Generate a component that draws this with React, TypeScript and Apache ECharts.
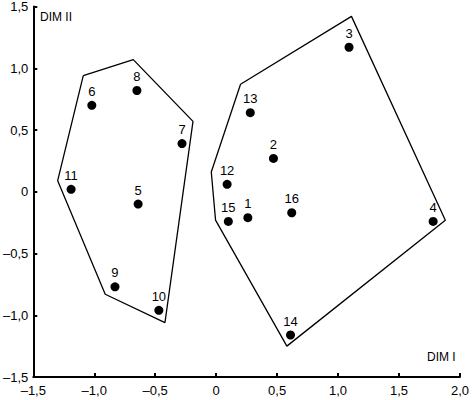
import React, { useEffect, useRef } from "react";
import * as echarts from "echarts";

const pointNames = ["1", "2", "3", "4", "5", "6", "7", "8", "9", "10", "11", "12", "13", "14", "15", "16"];
const dim1 = [0.26, 0.47, 1.09, 1.78, -0.64, -1.02, -0.28, -0.65, -0.83, -0.47, -1.19, 0.09, 0.28, 0.61, 0.10, 0.62];
const dim2 = [-0.21, 0.27, 1.17, -0.24, -0.10, 0.70, 0.39, 0.82, -0.77, -0.96, 0.02, 0.06, 0.64, -1.16, -0.24, -0.17];

const hullLeftX = [-1.09, -0.68, -0.19, -0.42, -0.91, -1.30];
const hullLeftY = [0.94, 1.07, 0.57, -1.06, -0.83, 0.09];
const hullRightX = [0.20, 1.11, 1.88, 0.58, -0.005, -0.04];
const hullRightY = [0.87, 1.42, -0.23, -1.25, -0.23, 0.16];

const axisMin = -1.5;
const xMax = 2.0;
const yMax = 1.5;
const tickStep = 0.5;

const fmt = (v: number) =>
  Math.abs(v) < 1e-9 ? "0" : v.toFixed(1).replace(".", ",").replace("-", "\u2013");

const closed = (xs: number[], ys: number[]) => {
  const pts = xs.map((x, i) => [x, ys[i]]);
  pts.push([xs[0], ys[0]]);
  return pts;
};

export default function App() {
  const ref = useRef<HTMLDivElement>(null);
  useEffect(() => {
    document.body.style.margin = "0";
    const chart = echarts.init(ref.current!, null, { renderer: "svg" });
    const font = "Liberation Sans, Arial, sans-serif";
    chart.setOption({
      animation: false,
      backgroundColor: "#ffffff",
      grid: { left: 33, right: 9, top: 6, bottom: 23, containLabel: false },
      xAxis: {
        type: "value",
        min: axisMin,
        max: xMax,
        interval: tickStep,
        splitLine: { show: false },
        axisLine: { show: true, onZero: false, lineStyle: { color: "#000", width: 2 } },
        axisTick: { show: true, inside: true, length: 4, lineStyle: { color: "#000", width: 2 } },
        axisLabel: { formatter: fmt, color: "#000", fontSize: 13, fontFamily: font, margin: 7, showMinLabel: true, showMaxLabel: true },
      },
      yAxis: {
        type: "value",
        min: axisMin,
        max: yMax,
        interval: tickStep,
        splitLine: { show: false },
        axisLine: { show: true, onZero: false, lineStyle: { color: "#000", width: 2 } },
        axisTick: { show: true, inside: true, length: 4, lineStyle: { color: "#000", width: 2 } },
        axisLabel: { formatter: fmt, color: "#000", fontSize: 13, fontFamily: font, margin: 5, showMinLabel: true, showMaxLabel: true },
      },
      series: [
        {
          type: "line",
          data: closed(hullLeftX, hullLeftY),
          symbol: "none",
          lineStyle: { color: "#000", width: 1.3 },
          silent: true,
        },
        {
          type: "line",
          data: closed(hullRightX, hullRightY),
          symbol: "none",
          lineStyle: { color: "#000", width: 1.3 },
          silent: true,
        },
        {
          type: "scatter",
          symbol: "circle",
          symbolSize: 9,
          itemStyle: { color: "#000", opacity: 1 },
          data: pointNames.map((n, i) => ({ name: n, value: [dim1[i], dim2[i]] })),
          label: {
            show: true,
            position: "top",
            distance: 3,
            formatter: (p: any) => p.name,
            color: "#000",
            fontSize: 13,
            fontFamily: font,
          },
        },
      ],
      graphic: [
        { type: "text", left: 40, top: 11, style: { text: "DIM II", fontSize: 12, fontFamily: font, fill: "#000" } },
        { type: "text", left: 427, top: 351, style: { text: "DIM I", fontSize: 12, fontFamily: font, fill: "#000" } },
      ],
    });
    return () => chart.dispose();
  }, []);
  return <div ref={ref} style={{ width: 472, height: 400 }} />;
}
